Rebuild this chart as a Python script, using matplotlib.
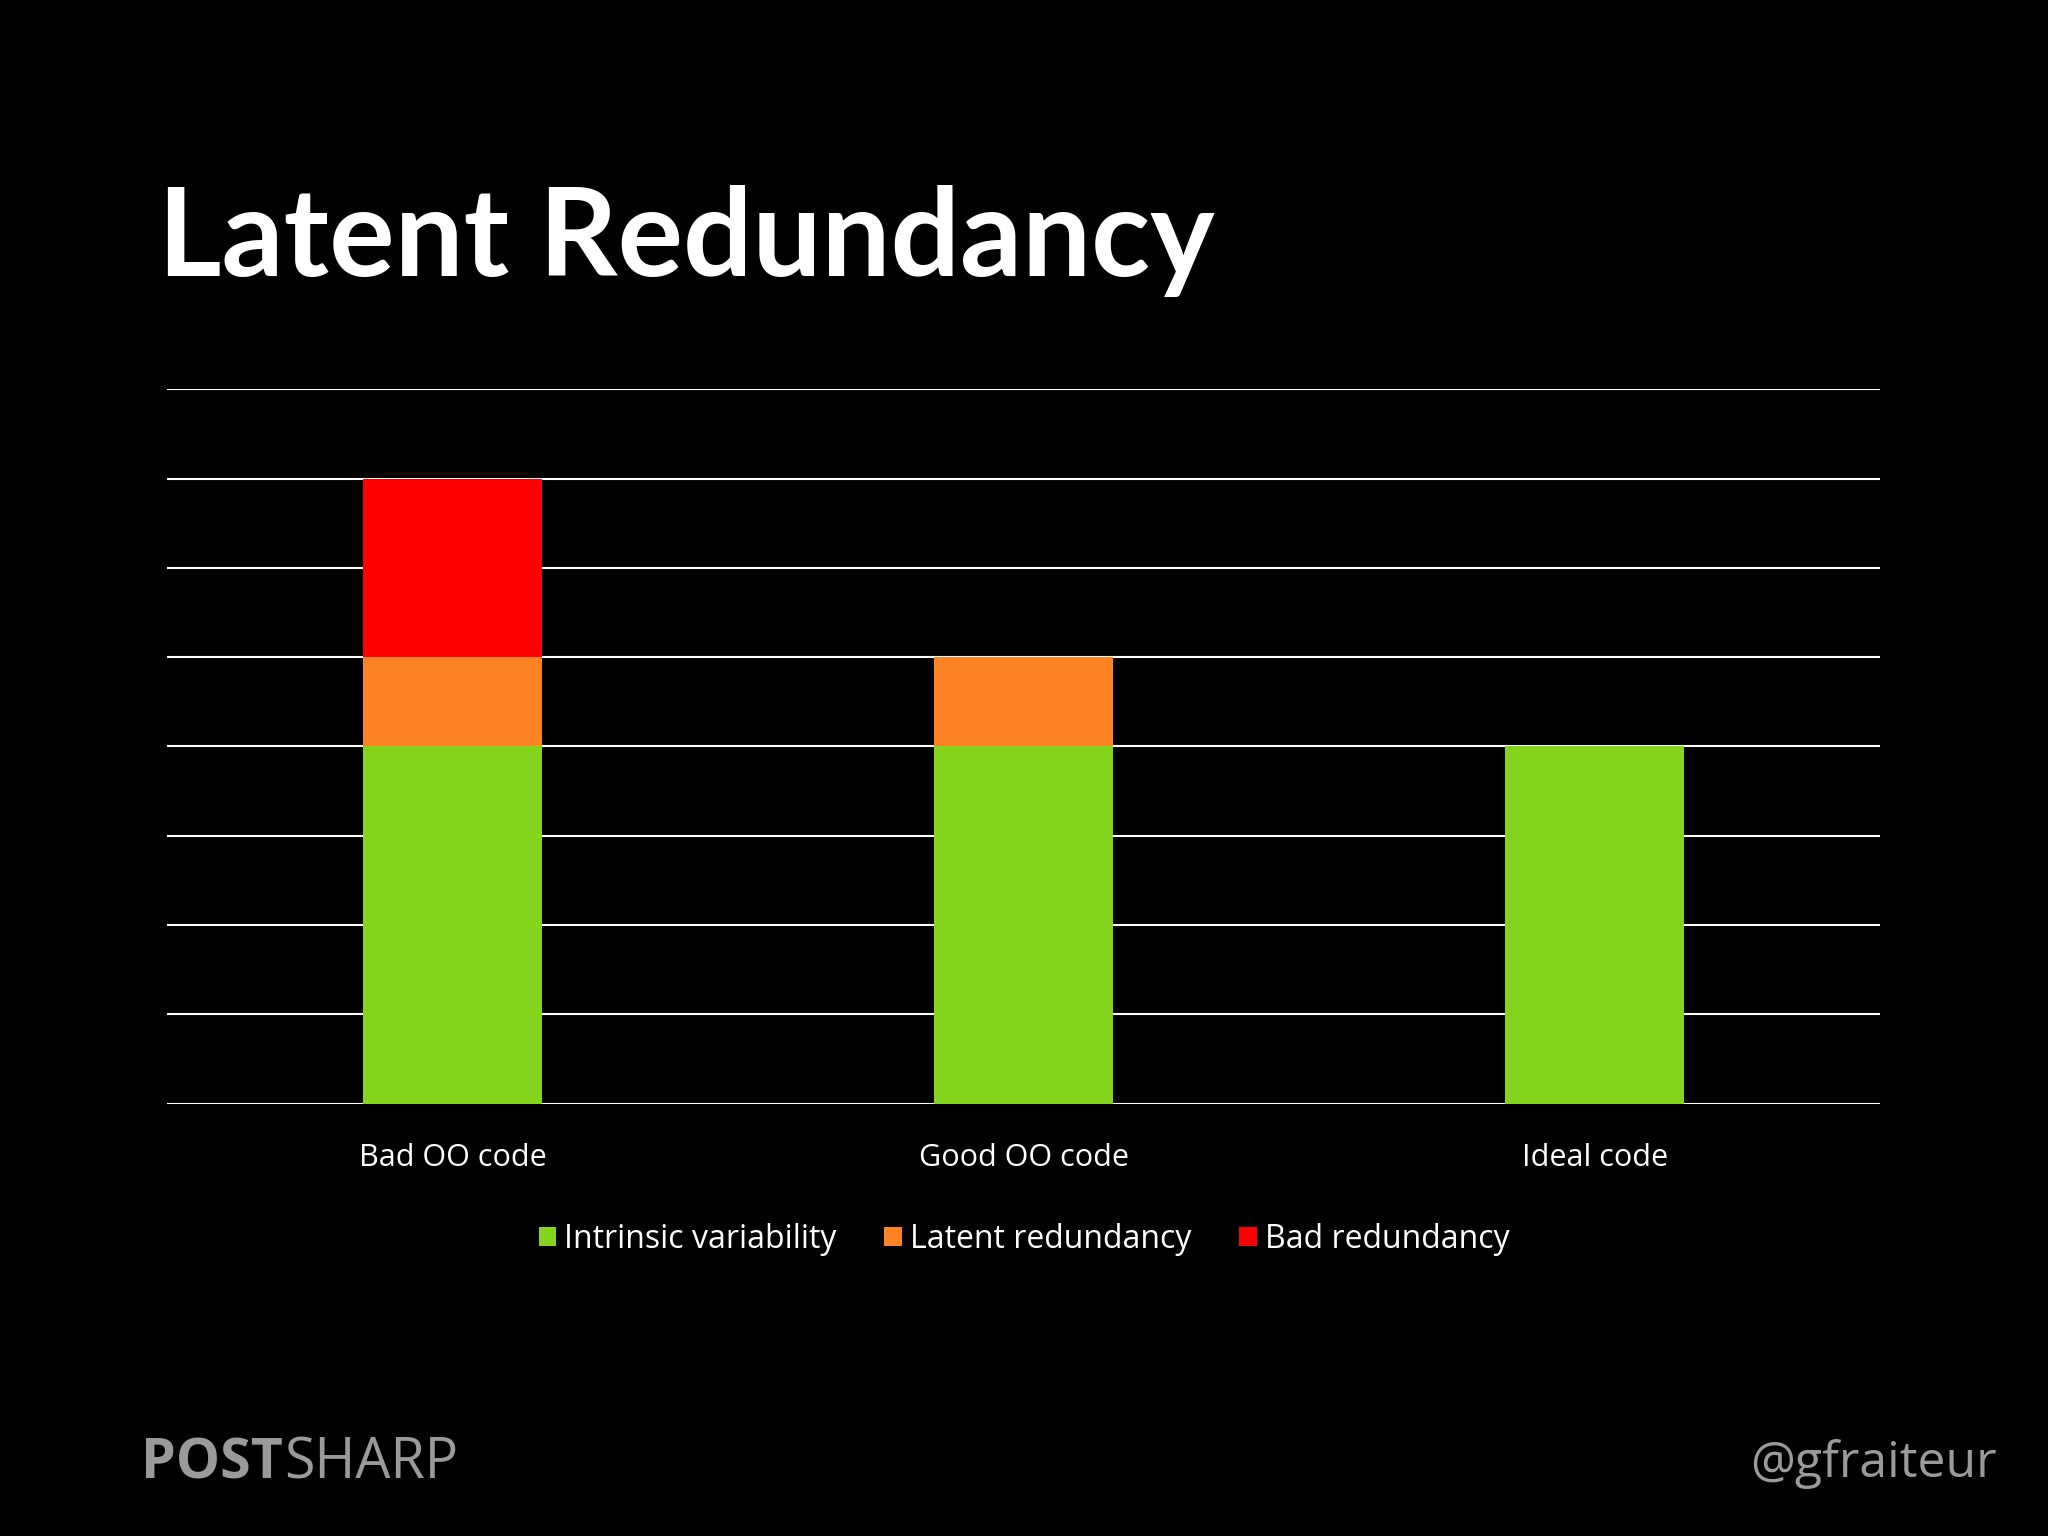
import matplotlib
matplotlib.use("Agg")
import matplotlib.pyplot as plt

categories = ["Bad OO code", "Good OO code", "Ideal code"]
intrinsic = [4, 4, 4]
latent = [1, 1, 0]
bad = [2, 0, 0]
series_names = ["Intrinsic variability", "Latent redundancy", "Bad redundancy"]
colors = ["#84d31c", "#fd8325", "#fe0000"]

fig = plt.figure(figsize=(20.48, 15.36), dpi=100, facecolor="black")
ax = fig.add_axes([0.0816, 0.2815, 0.8365, 0.4651], facecolor="black")
x = range(len(categories))
w = 0.313
b1 = [i + l for i, l in zip(intrinsic, latent)]
ax.bar(x, intrinsic, w, color=colors[0], label=series_names[0], zorder=3)
ax.bar(x, latent, w, bottom=intrinsic, color=colors[1], label=series_names[1], zorder=3)
ax.bar(x, bad, w, bottom=b1, color=colors[2], label=series_names[2], zorder=3)
ax.set_xlim(-0.5, 2.5)
ax.set_ylim(0, 8)
ax.set_yticks(range(9))
ax.yaxis.grid(True, color="white", linewidth=1.5, zorder=1)
ax.tick_params(axis="y", length=0, labelleft=False)
ax.tick_params(axis="x", length=0, colors="white", labelsize=22, pad=28)
ax.set_xticks(list(x))
ax.set_xticklabels(categories, fontfamily="Open Sans")
for s in ax.spines.values():
    s.set_visible(False)
leg = fig.legend(loc="center", bbox_to_anchor=(0.5, 0.193), ncol=3, frameon=False,
                 handlelength=0.55, handleheight=0.55, handletextpad=0.25, columnspacing=1.5,
                 prop={"family": "Open Sans", "size": 23})
for t in leg.get_texts():
    t.set_color("white")
fig.text(0.077, 0.843, "Latent Redundancy", color="white", fontsize=88, fontweight="bold",
         fontfamily="Lato", va="center", ha="left")
fig.text(0.069, 0.047, "POST", color="#9a9a9a", fontsize=40, fontweight="bold",
         fontfamily="Open Sans", va="center", ha="left")
fig.text(0.1385, 0.047, "SHARP", color="#9a9a9a", fontsize=40,
         fontfamily="Open Sans", va="center", ha="left")
fig.text(0.975, 0.047, "@gfraiteur", color="#9a9a9a", fontsize=36,
         fontfamily="Open Sans", va="center", ha="right")
fig.savefig("out.png", facecolor="black")
